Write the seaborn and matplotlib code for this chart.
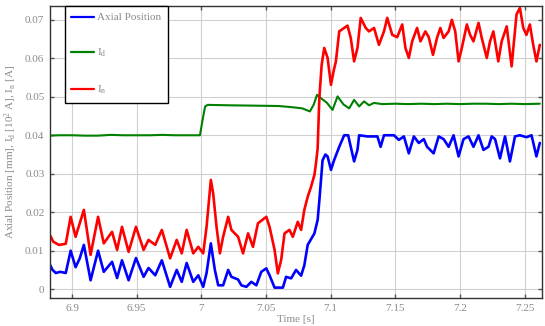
import matplotlib
matplotlib.use("Agg")
import matplotlib.pyplot as plt
import seaborn as sns
import pandas as pd
from matplotlib.lines import Line2D

# ---- data ----
t_pos = [6.8823, 6.8850, 6.8875, 6.8910, 6.8952, 6.8990, 6.9028, 6.9060, 6.9092, 6.9144,
         6.9202, 6.9246, 6.9310, 6.9349, 6.9387, 6.9438, 6.9495, 6.9554, 6.9592, 6.9644,
         6.9695, 6.9759, 6.9810, 6.9849, 6.9887, 6.9938, 6.9977, 7.0015, 7.0041, 7.0074,
         7.0105, 7.0131, 7.0169, 7.0208, 7.0233, 7.0285, 7.0310, 7.0349, 7.0387, 7.0426,
         7.0464, 7.0503, 7.0528, 7.0567, 7.0631, 7.0656, 7.0695, 7.0733, 7.0772, 7.0797,
         7.0823, 7.0849, 7.0875, 7.0900, 7.0913, 7.0925, 7.0938, 7.0960, 7.0977, 7.1003,
         7.1028, 7.1067, 7.1105, 7.1136, 7.1156, 7.1182, 7.1208, 7.1221, 7.1285, 7.1362,
         7.1387, 7.1413, 7.1490, 7.1528, 7.1567, 7.1605, 7.1644, 7.1682, 7.1721, 7.1746,
         7.1797, 7.1836, 7.1874, 7.1913, 7.1951, 7.1990, 7.2028, 7.2067, 7.2105, 7.2144,
         7.2182, 7.2221, 7.2246, 7.2272, 7.2310, 7.2349, 7.2387, 7.2426, 7.2464, 7.2515,
         7.2554, 7.2592, 7.2618]
pos = [0.0068, 0.0050, 0.0042, 0.0045, 0.0042, 0.0100, 0.0057, 0.0080, 0.0115, 0.0023,
       0.0100, 0.0045, 0.0071, 0.0029, 0.0075, 0.0023, 0.0081, 0.0032, 0.0055, 0.0036,
       0.0075, 0.0006, 0.0050, 0.0019, 0.0068, 0.0019, 0.0036, 0.0006, 0.0042, 0.0119,
       0.0050, 0.0010, 0.0010, 0.0050, 0.0032, 0.0025, 0.0010, 0.0006, 0.0019, 0.0010,
       0.0045, 0.0054, 0.0036, 0.0004, 0.0004, 0.0032, 0.0028, 0.0050, 0.0035, 0.0062,
       0.0115, 0.0130, 0.0145, 0.0180, 0.0230, 0.0280, 0.0335, 0.0350, 0.0345, 0.0310,
       0.0336, 0.0370, 0.0400, 0.0400, 0.0370, 0.0332, 0.0362, 0.0400, 0.0397, 0.0397,
       0.0370, 0.0400, 0.0400, 0.0388, 0.0397, 0.0353, 0.0397, 0.0380, 0.0390, 0.0370,
       0.0353, 0.0397, 0.0390, 0.0370, 0.0400, 0.0345, 0.0390, 0.0397, 0.0370, 0.0400,
       0.0362, 0.0370, 0.0397, 0.0390, 0.0340, 0.0397, 0.0332, 0.0397, 0.0400, 0.0395,
       0.0400, 0.0345, 0.0380]

t_id = [6.8823, 6.8900, 6.9000, 6.9100, 6.9200, 6.9300, 6.9400, 6.9500, 6.9600, 6.9700,
        6.9800, 6.9900, 6.9990, 7.0010, 7.0030, 7.0050, 7.0200, 7.0400, 7.0600, 7.0700,
        7.0780, 7.0840, 7.0870, 7.0895, 7.0930, 7.0970, 7.1015, 7.1054, 7.1100, 7.1144,
        7.1182, 7.1221, 7.1259, 7.1297, 7.1336, 7.1400, 7.1500, 7.1600, 7.1700, 7.1800,
        7.1900, 7.2000, 7.2100, 7.2200, 7.2300, 7.2400, 7.2500, 7.2618]
i_d = [0.0399, 0.0400, 0.0400, 0.0399, 0.0399, 0.0401, 0.0400, 0.0400, 0.0400, 0.0401,
       0.0400, 0.0400, 0.0400, 0.0440, 0.0475, 0.0479, 0.0478, 0.0477, 0.0476, 0.0473,
       0.0470, 0.0462, 0.0480, 0.0505, 0.0495, 0.0485, 0.0466, 0.0501, 0.0480, 0.0470,
       0.0492, 0.0475, 0.0488, 0.0478, 0.0484, 0.0481, 0.0482, 0.0481, 0.0482, 0.0481,
       0.0482, 0.0481, 0.0482, 0.0482, 0.0481, 0.0482, 0.0481, 0.0482]

t_in = [6.8823, 6.8856, 6.8900, 6.8952, 6.8990, 6.9028, 6.9092, 6.9144, 6.9202, 6.9246,
        6.9310, 6.9349, 6.9387, 6.9438, 6.9495, 6.9554, 6.9592, 6.9644, 6.9695, 6.9759,
        6.9810, 6.9849, 6.9887, 6.9938, 6.9977, 7.0015, 7.0041, 7.0074, 7.0092, 7.0118,
        7.0144, 7.0169, 7.0208, 7.0233, 7.0285, 7.0323, 7.0362, 7.0400, 7.0438, 7.0503,
        7.0528, 7.0567, 7.0592, 7.0618, 7.0644, 7.0682, 7.0708, 7.0746, 7.0772, 7.0797,
        7.0823, 7.0849, 7.0875, 7.0887, 7.0900, 7.0913, 7.0931, 7.0951, 7.0977, 7.1003,
        7.1023, 7.1041, 7.1067, 7.1105, 7.1131, 7.1156, 7.1182, 7.1208, 7.1233, 7.1272,
        7.1297, 7.1336, 7.1374, 7.1413, 7.1438, 7.1477, 7.1515, 7.1554, 7.1579, 7.1605,
        7.1631, 7.1669, 7.1695, 7.1733, 7.1759, 7.1792, 7.1823, 7.1849, 7.1874, 7.1913,
        7.1938, 7.1964, 7.1990, 7.2015, 7.2054, 7.2079, 7.2105, 7.2144, 7.2169, 7.2208,
        7.2233, 7.2259, 7.2297, 7.2323, 7.2362, 7.2400, 7.2438, 7.2464, 7.2490, 7.2515,
        7.2541, 7.2567, 7.2592, 7.2618]
i_n = [0.0145, 0.0123, 0.0115, 0.0118, 0.0188, 0.0136, 0.0206, 0.0089, 0.0188, 0.0119,
       0.0149, 0.0102, 0.0162, 0.0097, 0.0162, 0.0102, 0.0128, 0.0115, 0.0154, 0.0080,
       0.0128, 0.0093, 0.0154, 0.0093, 0.0110, 0.0093, 0.0162, 0.0284, 0.0249, 0.0162,
       0.0093, 0.0136, 0.0188, 0.0154, 0.0136, 0.0093, 0.0145, 0.0110, 0.0171, 0.0188,
       0.0162, 0.0102, 0.0041, 0.0076, 0.0145, 0.0154, 0.0136, 0.0175, 0.0154, 0.0206,
       0.0240, 0.0266, 0.0297, 0.0327, 0.0366, 0.0497, 0.0583, 0.0627, 0.0601, 0.0531,
       0.0566, 0.0592, 0.0670, 0.0679, 0.0685, 0.0653, 0.0592, 0.0627, 0.0705, 0.0679,
       0.0670, 0.0679, 0.0635, 0.0670, 0.0705, 0.0661, 0.0655, 0.0688, 0.0627, 0.0601,
       0.0644, 0.0679, 0.0644, 0.0670, 0.0655, 0.0609, 0.0653, 0.0679, 0.0653, 0.0670,
       0.0700, 0.0670, 0.0592, 0.0627, 0.0688, 0.0661, 0.0644, 0.0692, 0.0653, 0.0601,
       0.0644, 0.0670, 0.0592, 0.0644, 0.0683, 0.0579, 0.0714, 0.0731, 0.0679, 0.0661,
       0.0688, 0.0635, 0.0592, 0.0635]

series_names = ["Axial Position", r"I$_\mathrm{d}$", r"I$_\mathrm{n}$"]
series_colors = ["#0000ff", "#008000", "#ff0000"]
x_ticks = [6.9, 6.95, 7.0, 7.05, 7.1, 7.15, 7.2, 7.25]
y_ticks = [0, 0.01, 0.02, 0.03, 0.04, 0.05, 0.06, 0.07]

# ---- styling ----
sns.set_style("whitegrid")
plt.rcParams["font.family"] = ["Liberation Serif", "DejaVu Serif"]
plt.rcParams["mathtext.fontset"] = "custom"
plt.rcParams["mathtext.rm"] = "Liberation Serif"
plt.rcParams["mathtext.it"] = "Liberation Serif:italic"

fig = plt.figure(figsize=(5.45, 3.26), dpi=100)
ax = fig.add_axes([0.0917, 0.0859, 0.9028, 0.8957])

series = [(t_pos, pos, 1.9), (t_id, i_d, 1.5), (t_in, i_n, 1.9)]
for (tt, vv, lw), name, col in zip(series, series_names, series_colors):
    d = pd.DataFrame({"t": tt, "v": vv})
    sns.lineplot(data=d, x="t", y="v", color=col, estimator=None, sort=False,
                 linewidth=lw, ax=ax, legend=False)

ax.set_xlim(6.883, 7.2635)
ax.set_ylim(-0.0023, 0.0736)
ax.set_xticks(x_ticks)
ax.set_xticklabels([f"{v:g}" for v in x_ticks])
ax.set_yticks(y_ticks)
ax.set_yticklabels([f"{v:g}" for v in y_ticks])

ax.grid(True, color="#d0d0d0", linewidth=0.8)
for sp in ax.spines.values():
    sp.set_color("#333333")
    sp.set_linewidth(1.0)
    sp.set_visible(True)
ax.tick_params(direction="in", length=3, width=1, color="#555555",
               labelcolor="#8a8a8a", labelsize=8, top=True, right=True,
               bottom=True, left=True, pad=4)

ax.set_xlabel("Time [s]", color="#8a8a8a", fontsize=8, labelpad=2)
ax.set_ylabel(r"Axial Position [mm], I$_\mathrm{d}$ [10$^2$ A], I$_\mathrm{n}$ [A]",
              color="#8a8a8a", fontsize=8, labelpad=4)

handles = [Line2D([], [], color=c, linewidth=1.6) for c in series_colors]
leg = ax.legend(handles, series_names, loc="upper left", bbox_to_anchor=(0.03, 1.0),
                borderaxespad=0, fontsize=8, labelspacing=2.2, handlelength=2.0,
                handletextpad=0.3, borderpad=0.6, fancybox=False, framealpha=1,
                edgecolor="black")
leg.get_frame().set_linewidth(1.0)
for txt in leg.get_texts():
    txt.set_color("#8a8a8a")

fig.savefig("out.png", dpi=100)
